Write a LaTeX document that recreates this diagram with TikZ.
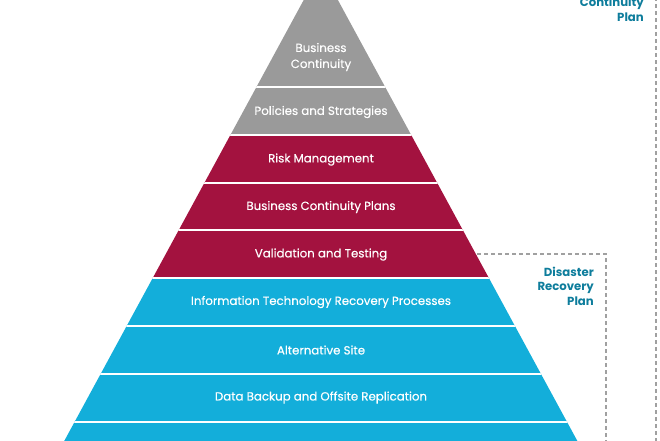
\documentclass[tikz,border=0pt]{standalone}
\usepackage{fontspec}
\setmainfont{Poppins}
\newfontfamily\pmed[FakeBold=0.35]{Poppins}
\definecolor{pgray}{HTML}{9A9A9A}
\definecolor{pred}{HTML}{A3123F}
\definecolor{pblue}{HTML}{13AEDA}
\definecolor{pteal}{HTML}{0E7D9C}
\definecolor{pdash}{HTML}{A0A0A0}
\begin{document}
\begin{tikzpicture}[x=1pt,y=-1pt,
  layertext/.style={text=white, font=\pmed\fontsize{11.8}{16}\selectfont, align=center, inner sep=0pt},
  plantext/.style={text=pteal, font=\fontsize{11.7}{14.7}\selectfont\bfseries, align=right, inner sep=0pt, anchor=north east},
  dashline/.style={draw=pdash, line width=1.5pt, dash pattern=on 4pt off 3pt},
  gapline/.style={draw=white, line width=2pt}]
\useasboundingbox (0,0) rectangle (660,440);
\clip (0,0) rectangle (660,440);
\coordinate (apex) at (320.8,-31.5);
\coordinate (bl) at (53.9,460);
\coordinate (br) at (587.7,460);
\begin{scope}
  \clip (apex) -- (bl) -- (br) -- cycle;
  \fill[pgray] (0,-40) rectangle (660,87);
  \fill[pgray] (0,87) rectangle (660,134.8);
  \fill[pred] (0,134.8) rectangle (660,278.2);
  \fill[pblue] (0,278.2) rectangle (660,460);
  \foreach \y in {87,134.8,182.6,230.4,278.2,326,373.8,421.6}
    \draw[gapline] (0,\y) -- (660,\y);
\end{scope}
\node[layertext] (l1) at (321,57) {Business\\Continuity};
\node[layertext] (l2) at (321,112) {Policies and Strategies};
\node[layertext] (l3) at (321,159.5) {Risk Management};
\node[layertext] (l4) at (321,207) {Business Continuity Plans};
\node[layertext] (l5) at (321,254.5) {Validation and Testing};
\node[layertext] (l6) at (321,302) {Information Technology Recovery Processes};
\node[layertext] (l7) at (321,350) {Alternative Site};
\node[layertext] (l8) at (321,397.5) {Data Backup and Offsite Replication};
\coordinate (d1) at (477,254);
\coordinate (d2) at (606,254);
\coordinate (d3) at (606,445);
\draw[dashline] (d1) -- (d2) -- (d3);
\coordinate (o1) at (656,-10);
\coordinate (o2) at (656,445);
\draw[dashline] (o1) -- (o2);
\node[plantext] (drp) at (594,266.5) {Disaster\\Recovery\\Plan};
\node[plantext] (bcp) at (644,-17.5) {Business\\Continuity\\Plan};
\end{tikzpicture}
\end{document}
